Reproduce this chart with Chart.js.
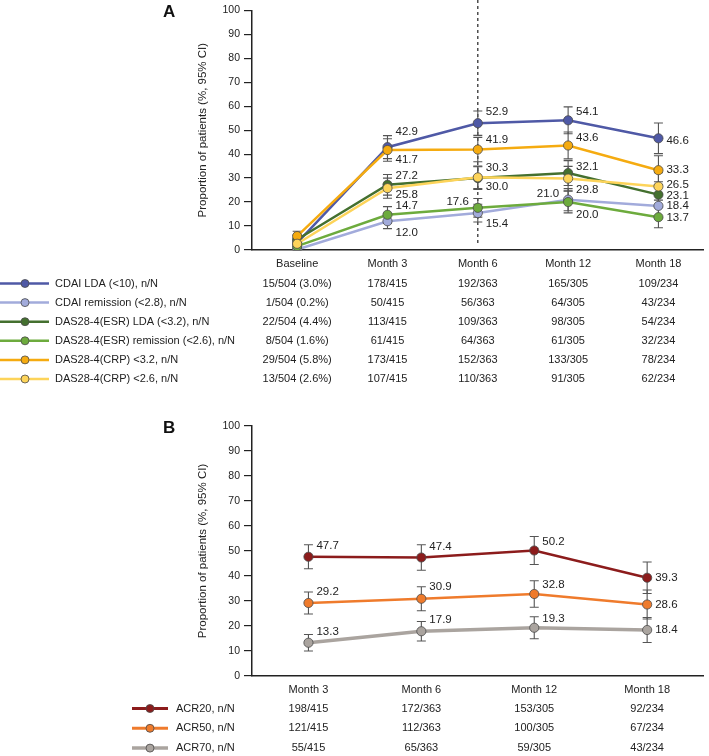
<!DOCTYPE html>
<html><head><meta charset="utf-8">
<script src="https://cdn.jsdelivr.net/npm/chart.js@4.4.0/dist/chart.umd.min.js"></script>
<style>
html,body{margin:0;padding:0;background:#fff;}
#wrap{position:relative;width:709px;height:756px;overflow:hidden;background:#fff;}
canvas{position:absolute;left:0;}
</style></head><body>
<div id="wrap">
<canvas id="cA" width="709" height="400" style="top:0"></canvas>
<canvas id="cB" width="709" height="356" style="top:400px"></canvas>
</div>
<script>
// ---------- DATA: panel A ----------
const categoriesA = ['Baseline', 'Month 3', 'Month 6', 'Month 12', 'Month 18'];
const namesA = ['CDAI LDA (<10), n/N', 'CDAI remission (<2.8), n/N', 'DAS28-4(ESR) LDA (<3.2), n/N',
  'DAS28-4(ESR) remission (<2.6), n/N', 'DAS28-4(CRP) <3.2, n/N', 'DAS28-4(CRP) <2.6, n/N'];
const cdaiLda     = [3.0, 42.9, 52.9, 54.1, 46.6];
const cdaiLdaLo   = [1.5, 38.1, 47.8, 48.5, 40.2];
const cdaiLdaHi   = [4.5, 47.7, 58.0, 59.7, 53.0];
const cdaiRem     = [0.2, 12.0, 15.4, 21.0, 18.4];
const cdaiRemLo   = [0.0, 8.9, 11.7, 16.4, 13.4];
const cdaiRemHi   = [0.6, 15.1, 19.1, 25.6, 23.4];
const esrLda      = [4.4, 27.2, 30.0, 32.1, 23.1];
const esrLdaLo    = [2.6, 22.9, 25.3, 26.9, 17.7];
const esrLdaHi    = [6.2, 31.5, 34.7, 37.3, 28.5];
const esrRem      = [1.6, 14.7, 17.6, 20.0, 13.7];
const esrRemLo    = [0.5, 11.3, 13.7, 15.5, 9.3];
const esrRemHi    = [2.7, 18.1, 21.5, 24.5, 18.1];
const crp32       = [5.8, 41.7, 41.9, 43.6, 33.3];
const crp32Lo     = [3.8, 37.0, 36.8, 38.0, 27.3];
const crp32Hi     = [7.8, 46.4, 47.0, 49.2, 39.3];
const crp26       = [2.6, 25.8, 30.3, 29.8, 26.5];
const crp26Lo     = [1.2, 21.6, 25.6, 24.7, 20.8];
const crp26Hi     = [4.0, 30.0, 35.0, 34.9, 32.2];
const nnCdaiLda = ['15/504 (3.0%)', '178/415', '192/363', '165/305', '109/234'];
const nnCdaiRem = ['1/504 (0.2%)', '50/415', '56/363', '64/305', '43/234'];
const nnEsrLda  = ['22/504 (4.4%)', '113/415', '109/363', '98/305', '54/234'];
const nnEsrRem  = ['8/504 (1.6%)', '61/415', '64/363', '61/305', '32/234'];
const nnCrp32   = ['29/504 (5.8%)', '173/415', '152/363', '133/305', '78/234'];
const nnCrp26   = ['13/504 (2.6%)', '107/415', '110/363', '91/305', '62/234'];
const yTicks = [0, 10, 20, 30, 40, 50, 60, 70, 80, 90, 100];

// ---------- DATA: panel B ----------
const categoriesB = ['Month 3', 'Month 6', 'Month 12', 'Month 18'];
const namesB = ['ACR20, n/N', 'ACR50, n/N', 'ACR70, n/N'];
const acr20   = [47.7, 47.4, 50.2, 39.3];
const acr20Lo = [42.9, 42.3, 44.6, 33.0];
const acr20Hi = [52.5, 52.5, 55.8, 45.6];
const acr50   = [29.2, 30.9, 32.8, 28.6];
const acr50Lo = [24.8, 26.1, 27.5, 22.8];
const acr50Hi = [33.6, 35.7, 38.1, 34.4];
const acr70   = [13.3, 17.9, 19.3, 18.4];
const acr70Lo = [10.0, 14.0, 14.9, 13.4];
const acr70Hi = [16.6, 21.8, 23.7, 23.4];
const nnAcr20 = ['198/415', '172/363', '153/305', '92/234'];
const nnAcr50 = ['121/415', '112/363', '100/305', '67/234'];
const nnAcr70 = ['55/415', '65/363', '59/305', '43/234'];

// ---------- STYLE ----------
const FONT = "'Liberation Sans', Arial, Helvetica, sans-serif";
const TXT = '#222';
const colorsA = ['#4f59a6', '#a2abdb', '#44702f', '#6dab3d', '#f5ab10', '#fdd45a'];
const colorsB = ['#8c1c1c', '#ef7b2c', '#aaa49f'];
const widthsB = [2.5, 2.5, 3.5];
// label placement: [side, dy]  side 'r' = right of point, 'l' = left of point, null = no label
const placeA = [
  [null, ['r', -15], ['r', -11], ['r', -8], ['r', 3]],
  [null, ['r', 12], ['r', 11], ['l', -6], ['r', 0]],
  [null, ['r', -9], ['r', 9], ['r', -6], ['r', 1]],
  [null, ['r', -9], ['l', -6], ['r', 13], ['r', 1]],
  [null, ['r', 10], ['r', -10], ['r', -8], ['r', 0]],
  [null, ['r', 7], ['r', -10], ['r', 11], ['r', -2]]
];
const placeB = [
  [['r', -11], ['r', -11], ['r', -9], ['r', 0]],
  [['r', -11], ['r', -12], ['r', -9], ['r', 0]],
  [['r', -11], ['r', -11], ['r', -9], ['r', 0]]
];

function makeDatasets(names, values, colors, widths) {
  return names.map((n, i) => ({
    label: n, data: values[i],
    borderColor: colors[i], backgroundColor: colors[i],
    pointBackgroundColor: colors[i], pointBorderColor: '#4a4a4a', pointBorderWidth: 0.8,
    pointRadius: 4.6, borderWidth: widths ? widths[i] : 2.5, tension: 0,
    order: names.length - i
  }));
}

function overlayPlugin(cfg) {
  return {
    id: 'overlay_' + cfg.letter,
    beforeDatasetsDraw(chart) {
      const ctx = chart.ctx, ys = chart.scales.y, xs = chart.scales.x;
      ctx.save();
      if (cfg.dashedAt != null) {
        const xd = xs.getPixelForValue(cfg.dashedAt);
        ctx.strokeStyle = '#333'; ctx.lineWidth = 1.3; ctx.setLineDash([3, 3]);
        ctx.beginPath(); ctx.moveTo(xd, 0); ctx.lineTo(xd, chart.chartArea.bottom - 6); ctx.stroke();
        ctx.setLineDash([]);
      }
      ctx.strokeStyle = '#555'; ctx.lineWidth = 1.1;
      chart.data.datasets.forEach((ds, di) => {
        const meta = chart.getDatasetMeta(di);
        meta.data.forEach((pt, i) => {
          const y1 = ys.getPixelForValue(cfg.lo[di][i]), y2 = ys.getPixelForValue(cfg.hi[di][i]);
          const x = pt.x;
          ctx.beginPath();
          ctx.moveTo(x, y1); ctx.lineTo(x, y2);
          ctx.moveTo(x - 4.5, y1); ctx.lineTo(x + 4.5, y1);
          ctx.moveTo(x - 4.5, y2); ctx.lineTo(x + 4.5, y2);
          ctx.stroke();
        });
      });
      ctx.restore();
    },
    afterDraw(chart) {
      const ctx = chart.ctx, xs = chart.scales.x, area = chart.chartArea;
      ctx.save();
      // value labels
      ctx.font = '11.5px ' + FONT; ctx.fillStyle = TXT; ctx.textBaseline = 'middle';
      chart.data.datasets.forEach((ds, di) => {
        const meta = chart.getDatasetMeta(di);
        meta.data.forEach((pt, i) => {
          const p = cfg.place[di][i];
          if (!p) return;
          const t = ds.data[i].toFixed(1);
          if (p[0] === 'r') { ctx.textAlign = 'left'; ctx.fillText(t, pt.x + 8, pt.y + p[1]); }
          else { ctx.textAlign = 'right'; ctx.fillText(t, pt.x - 9, pt.y + p[1]); }
        });
      });
      // axis title
      ctx.save();
      ctx.translate(cfg.titleX, (area.top + area.bottom) / 2);
      ctx.rotate(-Math.PI / 2);
      ctx.textAlign = 'center'; ctx.textBaseline = 'middle';
      ctx.font = '11.5px ' + FONT; ctx.fillStyle = TXT;
      ctx.fillText('Proportion of patients (%, 95% CI)', 0, 0);
      ctx.restore();
      // panel letter
      ctx.font = 'bold 17px ' + FONT; ctx.fillStyle = '#111'; ctx.textAlign = 'left'; ctx.textBaseline = 'alphabetic';
      ctx.fillText(cfg.letter, 163, cfg.letterY);
      // table with legend
      ctx.font = '11px ' + FONT; ctx.textBaseline = 'middle';
      cfg.rows.forEach((row, ri) => {
        const y = cfg.rowY0 + ri * cfg.rowStep;
        const c = chart.data.datasets[ri].borderColor;
        ctx.strokeStyle = c; ctx.lineWidth = cfg.legW[ri];
        ctx.beginPath(); ctx.moveTo(cfg.legX0, y); ctx.lineTo(cfg.legX1, y); ctx.stroke();
        ctx.beginPath(); ctx.arc(cfg.legDot, y, 4, 0, Math.PI * 2);
        ctx.fillStyle = c; ctx.fill(); ctx.strokeStyle = '#4a4a4a'; ctx.lineWidth = 0.8; ctx.stroke();
        ctx.fillStyle = TXT; ctx.textAlign = 'left';
        ctx.fillText(chart.data.datasets[ri].label, cfg.legText, y);
        ctx.textAlign = 'center';
        row.forEach((t, ci) => ctx.fillText(t, xs.getPixelForValue(ci), y));
      });
      ctx.restore();
    }
  };
}

function axisOpts(yWidth, xHeight) {
  return {
    x: {
      offset: true,
      grid: { display: true, drawOnChartArea: false, drawTicks: false, color: 'rgba(0,0,0,0)' },
      border: { display: true, color: '#222', width: 1.5 },
      ticks: { color: TXT, font: { family: FONT, size: 11 }, padding: 7, maxRotation: 0, autoSkip: false },
      afterFit(s) { s.height = xHeight; }
    },
    y: {
      min: 0, max: 100,
      grid: { display: true, drawOnChartArea: false, drawTicks: true, tickLength: 8, color: '#222', lineWidth: 1.2 },
      border: { display: true, color: '#222', width: 1.5 },
      ticks: { color: TXT, font: { family: FONT, size: 10.5 }, padding: 4, stepSize: 10,
        callback: (v) => yTicks.includes(v) ? String(v) : '' },
      afterFit(s) { s.width = yWidth; }
    }
  };
}

// ---------- Panel A ----------
new Chart(document.getElementById('cA'), {
  type: 'line',
  data: {
    labels: categoriesA,
    datasets: makeDatasets(namesA, [cdaiLda, cdaiRem, esrLda, esrRem, crp32, crp26], colorsA)
  },
  options: {
    responsive: false, animation: false, devicePixelRatio: 1,
    layout: { padding: { top: 9, right: 2, bottom: 130, left: 0 } },
    plugins: { legend: { display: false }, tooltip: { enabled: false } },
    scales: axisOpts(252, 20)
  },
  plugins: [overlayPlugin({
    letter: 'A', letterY: 17, titleX: 203, dashedAt: 2,
    lo: [cdaiLdaLo, cdaiRemLo, esrLdaLo, esrRemLo, crp32Lo, crp26Lo],
    hi: [cdaiLdaHi, cdaiRemHi, esrLdaHi, esrRemHi, crp32Hi, crp26Hi],
    place: placeA,
    rows: [nnCdaiLda, nnCdaiRem, nnEsrLda, nnEsrRem, nnCrp32, nnCrp26],
    rowY0: 283.5, rowStep: 19.1, legX0: 0, legX1: 49, legDot: 25, legText: 55,
    legW: [2.5, 2.5, 2.5, 2.5, 2.5, 2.5]
  })]
});

// ---------- Panel B ----------
new Chart(document.getElementById('cB'), {
  type: 'line',
  data: {
    labels: categoriesB,
    datasets: makeDatasets(namesB, [acr20, acr50, acr70], colorsB, widthsB)
  },
  options: {
    responsive: false, animation: false, devicePixelRatio: 1,
    layout: { padding: { top: 26, right: 1, bottom: 60, left: 0 } },
    plugins: { legend: { display: false }, tooltip: { enabled: false } },
    scales: axisOpts(252, 20)
  },
  plugins: [overlayPlugin({
    letter: 'B', letterY: 33, titleX: 203, dashedAt: null,
    lo: [acr20Lo, acr50Lo, acr70Lo],
    hi: [acr20Hi, acr50Hi, acr70Hi],
    place: placeB,
    rows: [nnAcr20, nnAcr50, nnAcr70],
    rowY0: 308.5, rowStep: 19.8, legX0: 132, legX1: 168, legDot: 150, legText: 176,
    legW: [3, 3, 3.5]
  })]
});
</script>
</body></html>
